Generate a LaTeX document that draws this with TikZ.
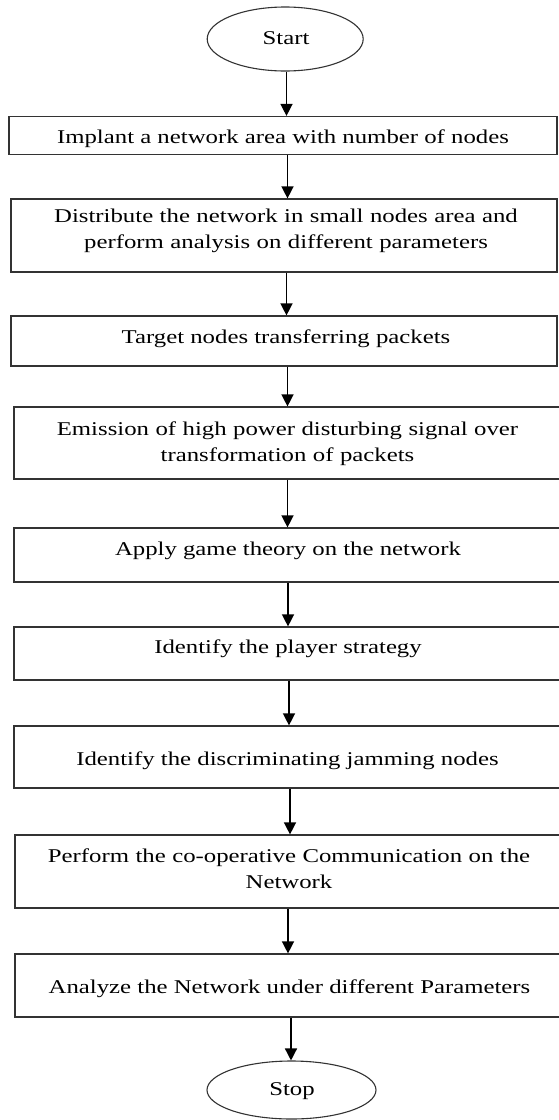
\documentclass[tikz,border=0pt]{standalone}
\usepackage{fontspec}
\setmainfont[FakeStretch=1.27]{Liberation Serif}
\usetikzlibrary{arrows.meta,shapes.geometric}
\begin{document}
\begin{tikzpicture}[x=1pt,y=-1pt,
  stepbox/.style={draw=black!80,line width=1.2pt,rectangle,inner sep=0pt},
  term/.style={draw=black!80,line width=1.1pt,ellipse,inner sep=0pt},
  txt/.style={inner sep=0pt,anchor=base,font=\fontsize{19.5}{26}\selectfont},
  ml/.style={text width=520pt,align=center},
  arr/.style={draw=black,line width=1.4pt,-{Triangle[length=12pt,width=12pt]}}]
\fill[white] (0,0) rectangle (558,1120);
\useasboundingbox (0,0) rectangle (558,1120);
% shapes
\node[term,minimum width=156pt,minimum height=64pt] (start) at (285.2,39) {};
\node[stepbox,minimum width=548pt,minimum height=38pt] (b1) at (283,135.5) {};
\node[stepbox,minimum width=546pt,minimum height=73pt] (b2) at (284,235.5) {};
\node[stepbox,minimum width=546pt,minimum height=50pt] (b3) at (284,341) {};
\node[stepbox,minimum width=547pt,minimum height=72pt] (b4) at (287.5,443) {};
\node[stepbox,minimum width=547pt,minimum height=54pt] (b5) at (287.5,555) {};
\node[stepbox,minimum width=547pt,minimum height=53pt] (b6) at (287.5,653.5) {};
\node[stepbox,minimum width=547pt,minimum height=62pt] (b7) at (287.5,757) {};
\node[stepbox,minimum width=548pt,minimum height=73pt] (b8) at (289,871.5) {};
\node[stepbox,minimum width=548pt,minimum height=63pt] (b9) at (289,985.5) {};
\node[term,minimum width=169pt,minimum height=58pt] (stop) at (291.5,1090) {};
% texts
\node[txt] (tstart) at (286,44) {Start};
\node[txt] (t1) at (283,143) {Implant a network area with number of nodes};
\node[txt,ml] (t2) at (286,222) {Distribute the network in small nodes area and\\perform analysis on different parameters};
\node[txt] (t3) at (286,343) {Target nodes transferring packets};
\node[txt,ml] (t4) at (287.5,435) {Emission of high power disturbing signal over\\transformation of packets};
\node[txt] (t5) at (288,555) {Apply game theory on the network};
\node[txt] (t6) at (288,653) {Identify the player strategy};
\node[txt] (t7) at (287.5,765) {Identify the discriminating jamming nodes};
\node[txt,ml] (t8) at (289,862) {Perform the co-operative Communication on the\\Network};
\node[txt] (t9) at (289.5,993) {Analyze the Network under different Parameters};
\node[txt] (tstop) at (292,1095) {Stop};
% connectors
\draw[arr] ([xshift=1.3pt]start.south) -- ([xshift=3.5pt]b1.north);
\draw[arr] ([xshift=4.5pt]b1.south) -- ([xshift=3.5pt]b2.north);
\draw[arr] ([xshift=2.5pt]b2.south) -- ([xshift=2.5pt]b3.north);
\draw[arr] ([xshift=3.5pt]b3.south) -- (b4.north);
\draw[arr] (b4.south) -- (b5.north);
\draw[arr] ([xshift=0.5pt]b5.south) -- ([xshift=0.5pt]b6.north);
\draw[arr] ([xshift=1.5pt]b6.south) -- ([xshift=1.5pt]b7.north);
\draw[arr] ([xshift=2.5pt]b7.south) -- ([xshift=1pt]b8.north);
\draw[arr] ([xshift=-1pt]b8.south) -- ([xshift=-1pt]b9.north);
\draw[arr] ([xshift=2pt]b9.south) -- ([xshift=-0.5pt]stop.north);
\end{tikzpicture}
\end{document}
